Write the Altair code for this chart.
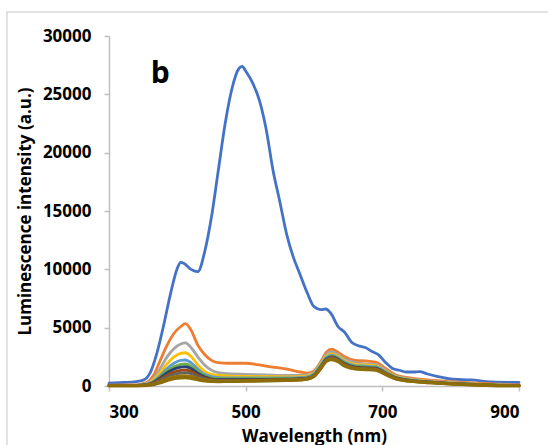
import altair as alt
import pandas as pd

# Wavelength grid (nm) for the strong emission spectrum
wl_main = [300, 320, 340, 350, 360, 370, 380, 390, 400, 405, 410, 420, 430, 440,
           450, 460, 470, 480, 490, 495, 500, 510, 520, 530, 540, 550, 560, 570,
           580, 590, 600, 610, 617, 625, 635, 645, 655, 665, 675, 685, 695, 705,
           715, 725, 735, 745, 755, 765, 780, 800, 830, 860, 900]
int_main = [250, 300, 380, 500, 1100, 2800, 5200, 7900, 10100, 10600, 10500, 10000,
            9800, 11500, 14500, 18500, 22500, 25500, 27200, 27400, 27000, 26000,
            24500, 22000, 18500, 15800, 13000, 11000, 9500, 8000, 6800, 6550, 6600,
            6200, 5100, 4600, 3750, 3450, 3300, 2950, 2650, 2000, 1500, 1350, 1200,
            1200, 1230, 1050, 830, 600, 520, 350, 300]

# Wavelength grid (nm) shared by the weaker spectra
wl_low = [300, 340, 355, 365, 375, 385, 395, 405, 412, 420, 430, 440, 450, 460,
          475, 500, 530, 560, 580, 590, 600, 610, 618, 626, 635, 645, 660, 675,
          690, 705, 720, 740, 770, 800, 840, 870, 900]

int_orange = [80, 100, 300, 900, 2200, 3500, 4500, 5100, 5350, 4800, 3500, 2700,
              2200, 2000, 1950, 1950, 1700, 1450, 1200, 1100, 1300, 2100, 2900,
              3150, 2900, 2500, 2200, 2150, 2050, 1500, 950, 700, 500, 380, 250,
              150, 90]
int_gray = [60, 80, 200, 650, 1500, 2500, 3200, 3600, 3700, 3300, 2500, 1800,
            1350, 1150, 1050, 1000, 950, 900, 900, 950, 1200, 2000, 2700, 2950,
            2700, 2300, 2000, 1900, 1850, 1350, 850, 620, 420, 300, 180, 100, 60]
int_yellow = [40, 60, 150, 500, 1150, 1900, 2500, 2800, 2850, 2550, 1800, 1250,
              1000, 900, 850, 820, 800, 780, 800, 850, 1100, 1900, 2550, 2750,
              2550, 2150, 1850, 1800, 1750, 1250, 780, 560, 380, 260, 150, 80, 40]
int_lightblue = [40, 60, 130, 400, 900, 1500, 1950, 2200, 2230, 2000, 1450, 1000,
                 800, 720, 700, 700, 690, 690, 720, 780, 1050, 1800, 2450, 2650,
                 2450, 2050, 1750, 1700, 1650, 1200, 750, 530, 360, 240, 140, 70, 40]
int_green = [40, 60, 120, 350, 800, 1300, 1650, 1850, 1890, 1700, 1250, 880, 700,
             640, 620, 620, 620, 630, 660, 720, 980, 1700, 2350, 2550, 2350, 1950,
             1680, 1620, 1580, 1150, 720, 510, 340, 230, 130, 70, 40]
int_darkblue = [30, 50, 110, 300, 700, 1150, 1450, 1620, 1660, 1500, 1100, 780,
                620, 570, 560, 560, 570, 590, 620, 680, 940, 1650, 2300, 2500, 2300,
                1900, 1620, 1560, 1520, 1100, 690, 490, 330, 220, 120, 60, 30]
int_brown = [30, 50, 100, 250, 580, 950, 1200, 1340, 1370, 1250, 930, 680, 550,
             510, 500, 510, 530, 550, 590, 650, 900, 1600, 2250, 2450, 2250, 1850,
             1580, 1520, 1480, 1070, 670, 470, 320, 210, 110, 60, 30]
int_darkgray = [30, 40, 90, 200, 480, 800, 1000, 1110, 1140, 1050, 800, 600, 500,
                470, 470, 480, 500, 530, 570, 630, 880, 1570, 2220, 2400, 2200,
                1800, 1540, 1480, 1450, 1050, 650, 460, 310, 200, 100, 50, 30]
int_olive = [20, 40, 80, 150, 350, 600, 760, 840, 860, 800, 640, 500, 440, 420,
             420, 440, 470, 500, 540, 600, 850, 1530, 2180, 2300, 2150, 1750, 1500,
             1450, 1400, 1000, 620, 430, 290, 190, 90, 40, 20]
int_darkolive = [20, 30, 60, 120, 280, 480, 620, 690, 710, 660, 540, 430, 390,
                 380, 390, 410, 440, 480, 520, 580, 820, 1500, 2120, 2250, 2100,
                 1700, 1460, 1410, 1360, 980, 600, 410, 280, 180, 80, 30, 20]

series = [
    ("S1", wl_main, int_main, "#4472C4"),
    ("S2", wl_low, int_orange, "#ED7D31"),
    ("S3", wl_low, int_gray, "#A5A5A5"),
    ("S4", wl_low, int_yellow, "#FFC000"),
    ("S5", wl_low, int_lightblue, "#5B9BD5"),
    ("S6", wl_low, int_green, "#70AD47"),
    ("S7", wl_low, int_darkblue, "#264478"),
    ("S8", wl_low, int_brown, "#9E480E"),
    ("S9", wl_low, int_darkgray, "#636363"),
    ("S10", wl_low, int_olive, "#997300"),
    ("S11", wl_low, int_darkolive, "#8C6D0A"),
]

FONT = "Open Sans"
x_scale = alt.Scale(domain=[300, 900], nice=False, zero=False)
y_scale = alt.Scale(domain=[0, 30000], nice=False)

layers = []

# Light frame around the whole figure
frame = alt.Chart(pd.DataFrame({"k": [0]})).mark_rect(
    fill=None, stroke="#d9d9d9", strokeWidth=1.5
).encode(x=alt.value(-102), x2=alt.value(600), y=alt.value(-24), y2=alt.value(500))
layers.append(frame)

for i, (name, xs, ys, col) in enumerate(series):
    df = pd.DataFrame({"wavelength": xs, "intensity": ys})
    x_enc = alt.X("wavelength:Q", scale=x_scale,
                  axis=alt.Axis(values=[300, 500, 700, 900], title="Wavelength (nm)",
                                titleY=55, titleBaseline="alphabetic")) if i == 0 else \
        alt.X("wavelength:Q", scale=x_scale)
    y_enc = alt.Y("intensity:Q", scale=y_scale,
                  axis=alt.Axis(values=[0, 5000, 10000, 15000, 20000, 25000, 30000],
                                format="d", title="Luminescence intensity (a.u.)",
                                titleX=-84, titleY=175, titleAngle=270,
                                titleAlign="center", titleBaseline="middle")) if i == 0 else \
        alt.Y("intensity:Q", scale=y_scale)
    line = alt.Chart(df).mark_line(
        color=col, strokeWidth=3.2 if name in ("S10", "S11") else 2.8,
        interpolate="monotone", strokeJoin="round", strokeCap="round"
    ).encode(x=x_enc, y=y_enc)
    layers.append(line)

# Panel letter
panel = alt.Chart(pd.DataFrame({"wavelength": [375], "intensity": [26000], "t": ["b"]})).mark_text(
    fontSize=30, fontWeight="bold", font=FONT, align="center", baseline="alphabetic", color="#000000"
).encode(x=alt.X("wavelength:Q", scale=x_scale), y=alt.Y("intensity:Q", scale=y_scale), text="t:N")
layers.append(panel)

chart = alt.layer(*layers).properties(
    width=410, height=350,
    padding={"left": 109, "top": 36, "right": 29, "bottom": 59},
    autosize=alt.AutoSizeParams(type="none"),
    background="white",
).configure_view(stroke=None).configure_axis(
    grid=False,
    domainColor="#bfbfbf", domainWidth=1.5,
    tickColor="#bfbfbf", tickWidth=1.5, tickSize=5,
    labelFont=FONT, labelFontSize=17, labelFontWeight="bold", labelColor="#000000",
    titleFont=FONT, titleFontSize=17, titleFontWeight="bold", titleColor="#000000",
).configure_axisX(labelPadding=13).configure_axisY(labelPadding=13)

chart.save("out.html", embed_options={"renderer": "svg", "actions": False})
